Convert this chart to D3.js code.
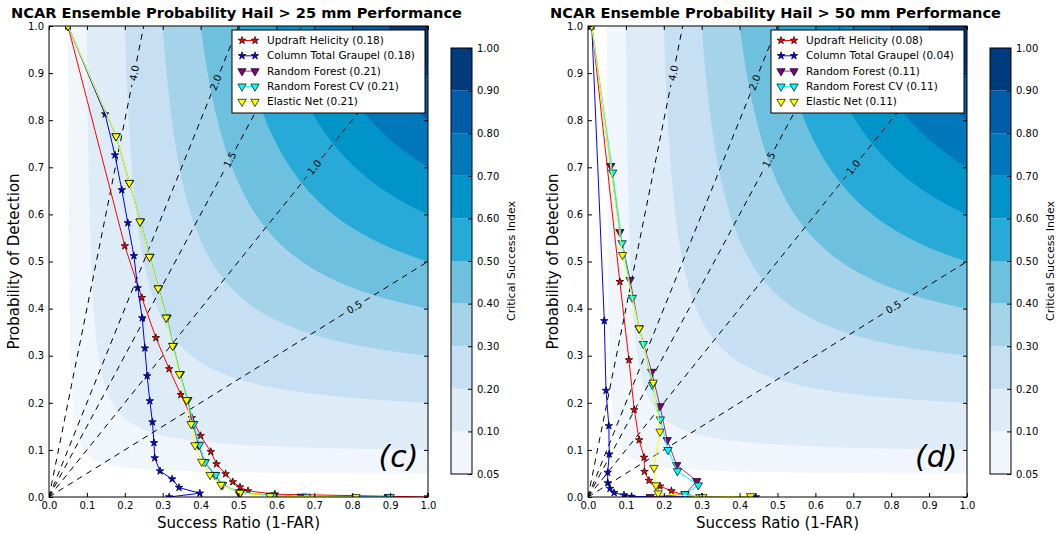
<!DOCTYPE html>
<html>
<head>
<meta charset="utf-8">
<title>NCAR Ensemble Probability Hail performance diagrams</title>
<script src="https://d3js.org/d3.v7.min.js"></script>
<style>
  body { margin: 0; background: #fff; }
  text { font-family: "DejaVu Sans", sans-serif; fill: #000; }
</style>
</head>
<body>
<div id="chart"></div>
<script>

// ---- data ----
var csiLevels = [0.05, 0.1, 0.2, 0.3, 0.4, 0.5, 0.6, 0.7, 0.8, 0.9, 1.0];
var csiColors = ["#f0f6fc", "#deecf8", "#c6dff2", "#a4d3ea", "#6ec0df",
                 "#27aad8", "#0094c9", "#0078bb", "#005ba8", "#003b7d"];
var biasValues = [4.0, 2.0, 1.5, 1.0, 0.5];
var biasLabelPod = [0.90, 0.88, 0.716, 0.70, 0.403];
var axisTicks = [0, 0.1, 0.2, 0.3, 0.4, 0.5, 0.6, 0.7, 0.8, 0.9, 1.0];

var seriesNames = ["Updraft Helicity", "Column Total Graupel", "Random Forest",
                   "Random Forest CV", "Elastic Net"];
var titles = ["NCAR Ensemble Probability Hail > 25 mm Performance",
              "NCAR Ensemble Probability Hail > 50 mm Performance"];
var panelTags = ["(c)", "(d)"];
var scores25 = [0.18, 0.18, 0.21, 0.21, 0.21];
var scores50 = [0.08, 0.04, 0.11, 0.11, 0.11];

// [success ratio, probability of detection]
var uh25 = [[0.05,1.0],[0.200,0.533],[0.245,0.423],[0.282,0.338],[0.317,0.272],[0.348,0.217],
  [0.377,0.168],[0.400,0.130],[0.427,0.096],[0.442,0.070],[0.466,0.049],[0.485,0.032],
  [0.504,0.021],[0.525,0.013],[0.596,0.006],[1.0,0.0]];
var ctg25 = [[0.05,1.0],[0.148,0.813],[0.174,0.726],[0.192,0.652],[0.208,0.582],[0.224,0.512],
  [0.234,0.444],[0.246,0.380],[0.253,0.316],[0.259,0.257],[0.266,0.204],[0.273,0.159],
  [0.277,0.115],[0.279,0.083],[0.293,0.055],[0.325,0.038],[0.343,0.020],[0.398,0.008],[0.317,0.0]];
var rf25 = [[0.05,1.0],[0.177,0.766],[0.212,0.667],[0.241,0.585],[0.266,0.510],[0.289,0.443],
  [0.311,0.381],[0.328,0.321],[0.346,0.261],[0.366,0.206],[0.380,0.155],[0.394,0.111],
  [0.410,0.074],[0.437,0.047],[0.456,0.026],[0.500,0.010],[0.585,0.003],[0.665,0.001],[0.895,0.0]];
var rfcv25 = [[0.05,1.0],[0.177,0.766],[0.212,0.667],[0.241,0.585],[0.266,0.510],[0.289,0.443],
  [0.311,0.381],[0.328,0.321],[0.346,0.261],[0.366,0.206],[0.382,0.155],[0.397,0.111],
  [0.412,0.074],[0.440,0.047],[0.458,0.026],[0.506,0.010],[0.590,0.003],[0.680,0.001],[0.900,0.0]];
var en25 = [[0.05,1.0],[0.177,0.766],[0.212,0.667],[0.240,0.585],[0.265,0.510],[0.288,0.443],
  [0.309,0.381],[0.326,0.321],[0.344,0.261],[0.363,0.206],[0.375,0.155],[0.385,0.110],
  [0.403,0.075],[0.425,0.047],[0.454,0.026],[0.504,0.009],[0.583,0.002],[0.810,0.0]];

var uh50 = [[0.01,1.0],[0.084,0.457],[0.108,0.291],[0.122,0.185],[0.135,0.121],[0.148,0.084],
  [0.149,0.054],[0.161,0.035],[0.190,0.023],[0.220,0.013],[0.260,0.002],[0.300,0.0]];
var ctg50 = [[0.01,1.0],[0.043,0.374],[0.0475,0.226],[0.055,0.151],[0.056,0.091],[0.052,0.052],
  [0.052,0.030],[0.058,0.018],[0.069,0.009],[0.095,0.004],[0.115,0.001],[0.443,0.0]];
var rf50 = [[0.01,1.0],[0.060,0.703],[0.084,0.563],[0.111,0.461],[0.135,0.358],[0.168,0.266],
  [0.190,0.193],[0.209,0.121],[0.234,0.068],[0.287,0.034],[0.256,0.006],[0.164,0.0]];
var rfcv50 = [[0.01,1.0],[0.065,0.689],[0.090,0.539],[0.117,0.423],[0.135,0.358],[0.146,0.325],
  [0.170,0.238],[0.191,0.165],[0.211,0.100],[0.236,0.055],[0.291,0.025],[0.256,0.006],[0.295,0.0]];
var en50 = [[0.01,1.0],[0.091,0.514],[0.135,0.358],[0.172,0.243],[0.190,0.139],[0.174,0.062],
  [0.179,0.025],[0.185,0.008],[0.303,0.0],[0.429,0.002]];

// ---- layout ----
var width = 1056, height = 534;
var plotTop = 26, plotH = 471, plotW = 379;
var panels = [
  {left: 49, title: titles[0], tag: panelTags[0], scores: scores25, series: [uh25, ctg25, rf25, rfcv25, en25]},
  {left: 588, title: titles[1], tag: panelTags[1], scores: scores50, series: [uh50, ctg50, rf50, rfcv50, en50]}
];
var seriesStyle = [
  {line: "red", fill: "red", shape: "star"},
  {line: "blue", fill: "blue", shape: "star"},
  {line: "#9b309b", fill: "purple", shape: "tri"},
  {line: "cyan", fill: "cyan", shape: "tri"},
  {line: "yellow", fill: "yellow", shape: "tri"}
];

var svg = d3.select("#chart").append("svg")
  .attr("width", width)
  .attr("height", height);

// CSI grid for the filled contours
var n = 300;
var grid = new Array(n * n);
for (var j = 0; j < n; j++) {
  for (var i = 0; i < n; i++) {
    var sr = (i + 0.5) / n, pod = 1 - (j + 0.5) / n;
    grid[j * n + i] = 1 / (1 / sr + 1 / pod - 1);
  }
}
var csiContours = d3.contours().size([n, n]).thresholds(csiLevels.slice(0, -1))(grid);

var starSym = d3.symbol().type(d3.symbolStar).size(18);
var triSym = d3.symbol().type(d3.symbolTriangle).size(30);

function marker(sel, style) {
  sel.append("path")
    .attr("d", style.shape == "star" ? starSym() : triSym())
    .attr("transform", function(d) {
      var t = "translate(" + d[0] + "," + d[1] + ")";
      return style.shape == "star" ? t : t + " rotate(180)";
    })
    .style("fill", style.fill)
    .style("stroke", "black")
    .style("stroke-width", 0.7);
}

panels.forEach(function(p, pi) {
  var x = d3.scaleLinear().domain([0, 1]).range([p.left, p.left + plotW]);
  var y = d3.scaleLinear().domain([0, 1]).range([plotTop + plotH, plotTop]);
  var g = svg.append("g");

  var clipId = "clip" + pi;
  g.append("clipPath").attr("id", clipId)
    .append("rect")
      .attr("x", x(0)).attr("y", y(1))
      .attr("width", x(1) - x(0)).attr("height", y(0) - y(1));

  var plot = g.append("g").attr("clip-path", "url(#" + clipId + ")");

  // filled CSI contours
  var gridPath = d3.geoPath(d3.geoTransform({
    point: function(gx, gy) { this.stream.point(x(gx / n), y(1 - gy / n)); }
  }));
  plot.selectAll(".csi")
    .data(csiContours)
    .enter()
    .append("path")
      .attr("class", "csi")
      .attr("d", gridPath)
      .style("fill", function(d, k) { return csiColors[k]; })
      .style("stroke", "none");

  // frequency bias lines
  biasValues.forEach(function(b, k) {
    var end = b >= 1 ? [1 / b, 1] : [1, b];
    var x0 = x(0), y0 = y(0), x1 = x(end[0]), y1 = y(end[1]);
    var lp = biasLabelPod[k];
    var cx = x(lp / b), cy = y(lp);
    var len = Math.hypot(x1 - x0, y1 - y0);
    var ux = (x1 - x0) / len, uy = (y1 - y0) / len;
    var gap = 12;
    plot.append("line")
      .attr("x1", x0).attr("y1", y0)
      .attr("x2", cx - ux * gap).attr("y2", cy - uy * gap)
      .style("stroke", "black").style("stroke-dasharray", "6,5").style("stroke-width", 1);
    plot.append("line")
      .attr("x1", cx + ux * gap).attr("y1", cy + uy * gap)
      .attr("x2", x1).attr("y2", y1)
      .style("stroke", "black").style("stroke-dasharray", "6,5").style("stroke-width", 1);
    var ang = Math.atan2(uy, ux) * 180 / Math.PI;
    plot.append("text")
      .attr("transform", "translate(" + cx + "," + cy + ") rotate(" + ang + ")")
      .attr("text-anchor", "middle")
      .attr("dy", "0.35em")
      .style("font-size", "10px")
      .text(d3.format(".1f")(b));
  });

  // series
  var line = d3.line().x(function(d) { return x(d[0]); }).y(function(d) { return y(d[1]); });
  p.series.forEach(function(s, k) {
    var st = seriesStyle[k];
    plot.append("path")
      .datum(s)
      .attr("d", line)
      .style("fill", "none")
      .style("stroke", st.line)
      .style("stroke-width", 1);
    plot.selectAll(".m" + k)
      .data(s.map(function(d) { return [x(d[0]), y(d[1])]; }))
      .enter()
      .append("g")
      .attr("class", "m" + k)
      .call(marker, st);
  });

  // axes, ticks inward on all four sides
  var fmt = d3.format(".1f");
  g.append("g")
    .attr("transform", "translate(0," + y(0) + ")")
    .call(d3.axisBottom(x).tickValues(axisTicks).tickFormat(fmt).tickSizeInner(-4).tickSizeOuter(0).tickPadding(5));
  g.append("g")
    .attr("transform", "translate(" + x(0) + ",0)")
    .call(d3.axisLeft(y).tickValues(axisTicks).tickFormat(fmt).tickSizeInner(-4).tickSizeOuter(0).tickPadding(5));
  g.append("g")
    .attr("transform", "translate(0," + y(1) + ")")
    .call(d3.axisTop(x).tickValues(axisTicks).tickFormat("").tickSizeInner(-4).tickSizeOuter(0));
  g.append("g")
    .attr("transform", "translate(" + x(1) + ",0)")
    .call(d3.axisRight(y).tickValues(axisTicks).tickFormat("").tickSizeInner(-4).tickSizeOuter(0));
  g.selectAll(".domain").remove();
  g.selectAll(".tick text").style("font-size", "10px").style("font-family", "DejaVu Sans");
  g.append("rect")
    .attr("x", x(0)).attr("y", y(1))
    .attr("width", x(1) - x(0)).attr("height", y(0) - y(1))
    .style("fill", "none").style("stroke", "black").style("stroke-width", 1);

  // panel tag
  g.append("text")
    .attr("x", x(0.975)).attr("y", y(0.063))
    .attr("text-anchor", "end")
    .style("font-size", "30px")
    .style("font-style", "italic")
    .text(p.tag);

  // legend
  var lgX = x(1) - 3 - 193, lgY = y(1) + 4;
  var lg = g.append("g");
  lg.append("rect")
    .attr("x", lgX).attr("y", lgY).attr("width", 193).attr("height", 83)
    .style("fill", "white").style("stroke", "black").style("stroke-width", 1);
  seriesNames.forEach(function(name, k) {
    var st = seriesStyle[k];
    var ry = lgY + 10.5 + k * 15.3;
    lg.append("line")
      .attr("x1", lgX + 10).attr("x2", lgX + 23).attr("y1", ry).attr("y2", ry)
      .style("stroke", st.line).style("stroke-width", 1);
    lg.selectAll(".lm" + k)
      .data([[lgX + 10, ry], [lgX + 23, ry]])
      .enter()
      .append("g")
      .attr("class", "lm" + k)
      .call(marker, st);
    lg.append("text")
      .attr("x", lgX + 35).attr("y", ry)
      .attr("dy", "0.35em")
      .style("font-size", "10.5px")
      .text(name + " (" + d3.format(".2f")(p.scores[k]) + ")");
  });

  // title and axis labels
  g.append("text")
    .attr("x", (x(0) + x(1)) / 2 - 2).attr("y", 18)
    .attr("text-anchor", "middle")
    .style("font-size", "14.6px").style("font-weight", "bold")
    .text(p.title);
  g.append("text")
    .attr("x", (x(0) + x(1)) / 2).attr("y", 528)
    .attr("text-anchor", "middle")
    .style("font-size", "15px")
    .text("Success Ratio (1-FAR)");
  g.append("text")
    .attr("transform", "translate(" + (x(0) - 30) + "," + ((y(0) + y(1)) / 2) + ") rotate(-90)")
    .attr("text-anchor", "middle")
    .style("font-size", "15px")
    .text("Probability of Detection");

  // colorbar
  var cbX = x(1) + 23, cbW = 21;
  var cy = d3.scalePoint().domain(csiLevels).range([474, 48]);
  var cb = g.append("g");
  cb.selectAll("rect.band")
    .data(csiColors)
    .enter()
    .append("rect")
      .attr("class", "band")
      .attr("x", cbX)
      .attr("y", function(d, k) { return cy(csiLevels[k + 1]); })
      .attr("width", cbW)
      .attr("height", function(d, k) { return cy(csiLevels[k]) - cy(csiLevels[k + 1]); })
      .style("fill", function(d) { return d; });
  cb.append("rect")
    .attr("x", cbX).attr("y", cy(1.0))
    .attr("width", cbW).attr("height", cy(0.05) - cy(1.0))
    .style("fill", "none").style("stroke", "black").style("stroke-width", 1);
  cb.append("g")
    .attr("transform", "translate(" + (cbX + cbW) + ",0)")
    .call(d3.axisRight(cy).tickFormat(d3.format(".2f")).tickSizeInner(-4).tickSizeOuter(0).tickPadding(5))
    .call(function(a) { a.select(".domain").remove(); })
    .selectAll("text").style("font-size", "10px").style("font-family", "DejaVu Sans");
  cb.append("text")
    .attr("transform", "translate(" + (cbX + cbW + 43) + "," + ((cy(1.0) + cy(0.05)) / 2) + ") rotate(-90)")
    .attr("text-anchor", "middle")
    .style("font-size", "11px")
    .text("Critical Success Index");
});
</script>
</body>
</html>
